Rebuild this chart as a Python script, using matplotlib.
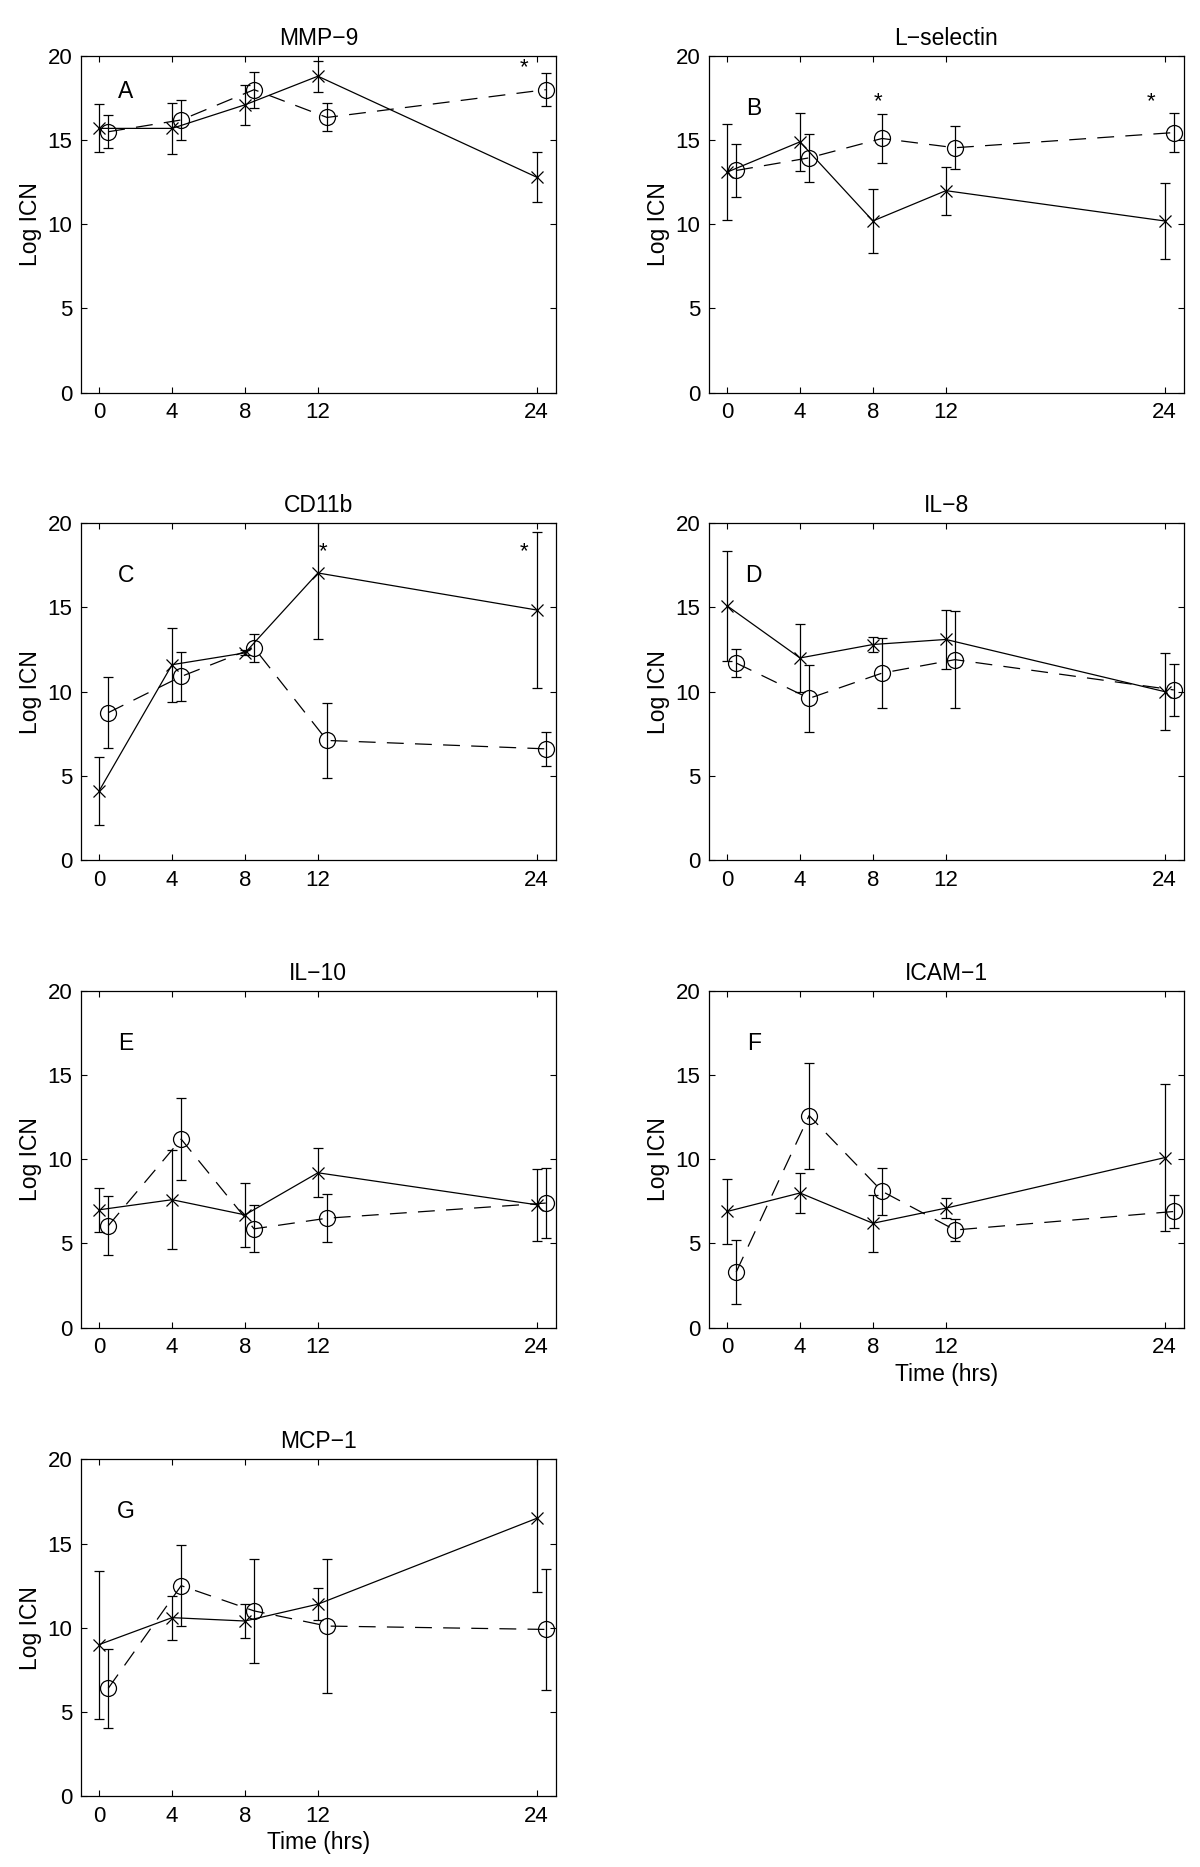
import matplotlib
matplotlib.use("Agg")
import matplotlib.pyplot as plt

plt.rcParams['font.family'] = ['Liberation Sans', 'DejaVu Sans']

# sampling times (hrs); the circle series is plotted 0.5 h to the right
times = [0, 4, 8, 12, 24]
time_shift = 0.5
tick_hours = [0, 4, 8, 12, 24]
y_ticks = [0, 5, 10, 15, 20]

panel_titles = ['MMP\u22129', 'L\u2212selectin', 'CD11b', 'IL\u22128', 'IL\u221210', 'ICAM\u22121', 'MCP\u22121']
panel_letters = ['A', 'B', 'C', 'D', 'E', 'F', 'G']
letter_y = [17.9, 16.9, 16.9, 16.9, 16.9, 16.9, 16.9]

# solid line, 'x' markers
mmp9_x = [15.7, 15.7, 17.1, 18.8, 12.8]
mmp9_x_err = [1.43, 1.52, 1.2, 0.93, 1.47]
lsel_x = [13.1, 14.9, 10.2, 12.0, 10.2]
lsel_x_err = [2.84, 1.73, 1.9, 1.42, 2.25]
cd11b_x = [4.1, 11.6, 12.3, 17.05, 14.85]
cd11b_x_err = [2.0, 2.2, 0.15, 3.9, 4.66]
il8_x = [15.1, 12.0, 12.8, 13.1, 10.0]
il8_x_err = [3.26, 2.0, 0.42, 1.75, 2.3]
il10_x = [7.0, 7.6, 6.7, 9.2, 7.3]
il10_x_err = [1.3, 2.95, 1.9, 1.45, 2.15]
icam_x = [6.9, 8.0, 6.2, 7.1, 10.1]
icam_x_err = [1.92, 1.2, 1.7, 0.58, 4.35]
mcp_x = [9.0, 10.6, 10.4, 11.4, 16.5]
mcp_x_err = [4.4, 1.3, 1.0, 0.94, 4.4]

# dashed line, open circles
mmp9_o = [15.5, 16.2, 18.0, 16.35, 18.0]
mmp9_o_err = [0.98, 1.18, 1.06, 0.83, 0.99]
lsel_o = [13.2, 13.95, 15.1, 14.55, 15.45]
lsel_o_err = [1.56, 1.43, 1.43, 1.29, 1.15]
cd11b_o = [8.75, 10.9, 12.6, 7.1, 6.6]
cd11b_o_err = [2.1, 1.43, 0.82, 2.25, 1.02]
il8_o = [11.7, 9.6, 11.1, 11.9, 10.1]
il8_o_err = [0.84, 2.0, 2.1, 2.9, 1.56]
il10_o = [6.05, 11.2, 5.87, 6.5, 7.4]
il10_o_err = [1.75, 2.42, 1.39, 1.41, 2.1]
icam_o = [3.3, 12.6, 8.1, 5.8, 6.9]
icam_o_err = [1.9, 3.15, 1.4, 0.65, 1.0]
mcp_o = [6.4, 12.5, 11.0, 10.1, 9.9]
mcp_o_err = [2.33, 2.4, 3.1, 4.0, 3.6]

# significance asterisks per panel: (hour, value)
stars_mmp9 = [(23.3, 19.3)]
stars_lsel = [(8.26, 17.3), (23.27, 17.3)]
stars_cd11b = [(12.29, 18.3), (23.29, 18.3)]

x_means = [mmp9_x, lsel_x, cd11b_x, il8_x, il10_x, icam_x, mcp_x]
x_errs = [mmp9_x_err, lsel_x_err, cd11b_x_err, il8_x_err, il10_x_err, icam_x_err, mcp_x_err]
o_means = [mmp9_o, lsel_o, cd11b_o, il8_o, il10_o, icam_o, mcp_o]
o_errs = [mmp9_o_err, lsel_o_err, cd11b_o_err, il8_o_err, il10_o_err, icam_o_err, mcp_o_err]
stars = [stars_mmp9, stars_lsel, stars_cd11b, [], [], [], []]

fig = plt.figure(figsize=(12, 18.67), dpi=100)

col_left = [0.0674, 0.5907]
row_bottom = [0.7897, 0.5394, 0.2889, 0.038]
ax_w, ax_h = 0.3958, 0.1803

fs = 16.5
tick_fs = 16
for i in range(7):
    r, c = divmod(i, 2)
    ax = fig.add_axes([col_left[c], row_bottom[r], ax_w, ax_h])
    t_o = [t + time_shift for t in times]

    ax.errorbar(times, x_means[i], yerr=x_errs[i], color='black', lw=0.9,
                marker='x', markersize=8.5, mew=0.9, capsize=3.5, elinewidth=0.9,
                capthick=0.9)
    eb = ax.errorbar(t_o, o_means[i], yerr=o_errs[i], color='black', lw=0.9,
                     marker='o', markersize=11.5, mfc='none', mew=0.9, capsize=3.5,
                     elinewidth=0.9, capthick=0.9, ls='--')
    eb[0].set_dashes((13.5, 9))

    for sx, sy in stars[i]:
        ax.text(sx, sy, '*', ha='center', va='center', fontsize=tick_fs)
    ax.text(1.46, letter_y[i], panel_letters[i], ha='center', va='center', fontsize=16.5)

    ax.set_xlim(-1, 25.05)
    ax.set_ylim(0, 20)
    ax.set_xticks(tick_hours)
    ax.set_yticks(y_ticks)
    ax.tick_params(direction='in', top=True, right=True, length=4, width=0.8,
                   labelsize=tick_fs)
    ax.tick_params(axis='x', pad=7)
    ax.tick_params(axis='y', pad=6)
    for sp in ax.spines.values():
        sp.set_linewidth(0.9)
    ax.set_title(panel_titles[i], fontsize=fs, pad=8)
    ax.set_ylabel('Log ICN', fontsize=fs)
    if i in (5, 6):
        ax.set_xlabel('Time (hrs)', fontsize=fs, labelpad=3)

fig.savefig('out.png', dpi=100)
